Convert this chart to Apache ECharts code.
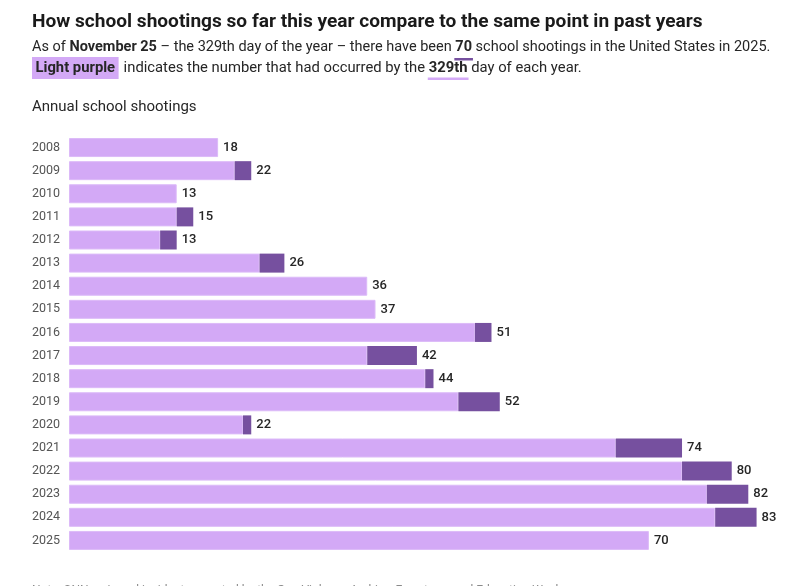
<!DOCTYPE html>
<html>
<head>
<meta charset="utf-8">
<script src="https://cdn.jsdelivr.net/npm/echarts@6/dist/echarts.min.js"></script>
<style>
html,body{margin:0;padding:0;background:#fff;}
#chart{width:800px;height:586px;}
</style>
</head>
<body>
<div id="chart"></div>
<script>
// ---- data ----
var years = ['2008','2009','2010','2011','2012','2013','2014','2015','2016','2017','2018','2019','2020','2021','2022','2023','2024','2025'];
var totals = [18,22,13,15,13,26,36,37,51,42,44,52,22,74,80,82,83,70];
var byDay329 = [18,20,13,13,11,23,36,37,49,36,43,47,21,66,74,77,78,70];

var LIGHT = '#d3a9f6';
var DARK = '#76509f';
var FONT = 'Roboto, "Noto Sans", sans-serif';

var rest = totals.map(function (t, i) { return t - byDay329[i]; });

var chart = echarts.init(document.getElementById('chart'), null, {renderer: 'canvas'});

// measure helper for header layout
var cv = document.createElement('canvas').getContext('2d');
function tw(text, size, weight) {
  cv.font = (weight || 'normal') + ' ' + size + 'px ' + FONT;
  return cv.measureText(text).width;
}

function segLine(segs, x0, y, size) {
  var els = [];
  var x = x0;
  var marks = {};
  segs.forEach(function (s) {
    if (s.gap) { x += s.gap; return; }
    var w = tw(s.t, size, s.b ? 'bold' : 'normal');
    els.push({
      type: 'text', x: x, y: y,
      style: {
        text: s.t, font: (s.b ? 'bold ' : '') + size + 'px ' + FONT,
        fill: '#262626', textVerticalAlign: 'middle'
      },
      z: 10
    });
    if (s.key) marks[s.key] = {x: x, w: w};
    x += w;
  });
  return {els: els, marks: marks};
}

var line1 = segLine([
  {t: 'As of '}, {t: 'November 25', b: true},
  {t: ' \u2013 the 329th day of the year \u2013 there have been '},
  {t: '70', b: true, key: 'seventy'},
  {t: ' school shootings in the United States in 2025.'}
], 32, 47, 14.5);
var line2 = segLine([
  {t: 'Light purple', b: true, key: 'lp'},
  {gap: 8.5},
  {t: 'indicates the number that had occurred by the '},
  {t: '329th', b: true, key: 'day'},
  {t: ' day of each year.'}
], 35.5, 68, 14.8);

var m70 = line1.marks.seventy, mlp = line2.marks.lp, mday = line2.marks.day;
var graphics = [].concat(line1.els, line2.els, [
  {type: 'rect', shape: {x: m70.x - 1, y: 58, width: m70.w + 2, height: 2.5}, style: {fill: DARK}, z: 5},
  {type: 'rect', shape: {x: 32, y: 57, width: mlp.w + 7, height: 22}, style: {fill: LIGHT}, z: 5},
  {type: 'rect', shape: {x: mday.x - 1, y: 77.5, width: mday.w + 2, height: 2.5}, style: {fill: LIGHT}, z: 5},
  {type: 'text', x: 32, y: 22, style: {text: 'How school shootings so far this year compare to the same point in past years',
    font: 'bold 19.1px ' + FONT, fill: '#1a1a1a', textVerticalAlign: 'middle'}},
  {type: 'text', x: 32, y: 107, style: {text: 'Annual school shootings',
    font: '15px ' + FONT, fill: '#262626', textVerticalAlign: 'middle'}},
  {type: 'text', x: 32, y: 591, style: {text: 'Note: CNN reviewed incidents reported by the Gun Violence Archive, Everytown and Education Week.',
    font: '12px ' + FONT, fill: '#8a8a8a', textVerticalAlign: 'middle'}}
]);

chart.setOption({
  animation: false,
  backgroundColor: '#ffffff',
  grid: {left: 69, right: 2, top: 136, bottom: 34, containLabel: false, outerBoundsMode: 'none'},
  xAxis: {type: 'value', min: 0, max: 88, show: false},
  yAxis: {
    type: 'category', data: years, inverse: true,
    axisLine: {show: false}, axisTick: {show: false}, splitLine: {show: false},
    axisLabel: {margin: 37, align: 'left', color: '#555555', fontSize: 12.5, fontFamily: FONT}
  },
  series: [
    {
      type: 'bar', stack: 'a', data: byDay329, barWidth: 19,
      itemStyle: {color: LIGHT, borderColor: '#dcbaf8', borderWidth: 1}
    },
    {
      type: 'bar', stack: 'a', data: rest, barWidth: 19,
      itemStyle: {color: DARK, borderWidth: 0},
      label: {
        show: true, position: 'right', distance: 5,
        formatter: function (p) { return totals[p.dataIndex]; },
        color: '#262626', fontSize: 13, fontWeight: 500, fontFamily: FONT
      }
    }
  ],
  graphic: graphics
});
</script>
</body>
</html>
